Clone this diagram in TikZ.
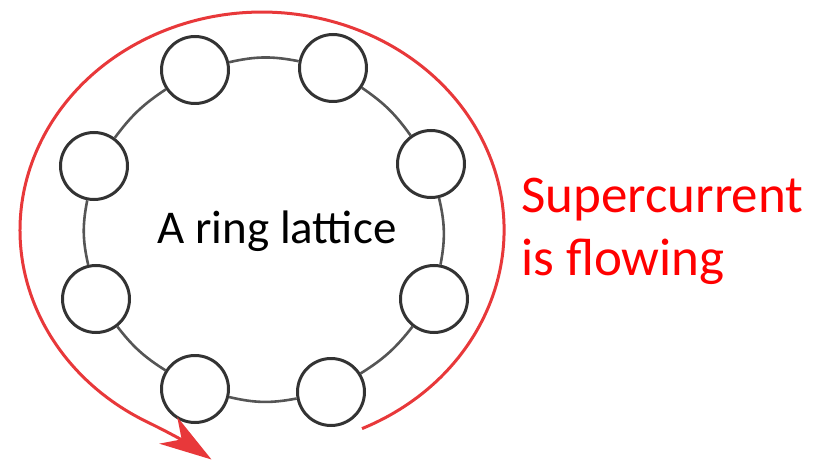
\documentclass[tikz,border=0pt]{standalone}
\usepackage{fontspec}
\setmainfont{Carlito}
\usetikzlibrary{arrows.meta}
\definecolor{ringgray}{HTML}{555555}
\definecolor{sitegray}{HTML}{333333}
\definecolor{arcred}{HTML}{E8383A}
\definecolor{txtred}{HTML}{FF0000}
\tikzset{
  site/.style={circle, draw=sitegray, line width=3pt, fill=white, minimum size=67pt, inner sep=0pt},
  conn/.style={draw=ringgray, line width=2.6pt},
  current/.style={draw=arcred, line width=3pt, -{Stealth[length=52pt,width=32pt,inset=16pt]}},
}
\begin{document}
\begin{tikzpicture}[x=1pt,y=1pt]
\useasboundingbox (0,0) rectangle (829,461);
% lattice sites
\node[site] (c1) at (195,391) {};
\node[site] (c2) at (333,393) {};
\node[site] (c3) at (431,297) {};
\node[site] (c4) at (434,162) {};
\node[site] (c5) at (331,69) {};
\node[site] (c6) at (195,72) {};
\node[site] (c7) at (96,162) {};
\node[site] (c8) at (94,295) {};
% ring bonds
\draw[conn] (c2) to[bend right=12] (c1);
\draw[conn] (c1) to[bend right=10] (c8);
\draw[conn] (c8) to[bend right=12] (c7);
\draw[conn] (c7) to[bend right=10] (c6);
\draw[conn] (c6) to[bend right=12] (c5);
\draw[conn] (c5) to[bend right=10] (c4);
\draw[conn] (c4) to[bend right=12] (c3);
\draw[conn] (c3) to[bend right=10] (c2);
% label
\node[anchor=base, font=\fontsize{47}{56}\selectfont] (lbl) at (277,218) {A ring lattice};
% supercurrent
\coordinate (cs) at (362,32.4);
\coordinate (tip) at (211.5,1.5);
\draw[current] (cs) arc[start angle=-65.6, end angle=242, x radius=242, y radius=218]
  to[out=-26, in=146] (tip);
\node[anchor=base west, align=left, text=txtred, font=\fontsize{53}{62}\selectfont, inner sep=0pt] (sc) at (521,186) {Supercurrent\\is flowing};
\end{tikzpicture}
\end{document}
